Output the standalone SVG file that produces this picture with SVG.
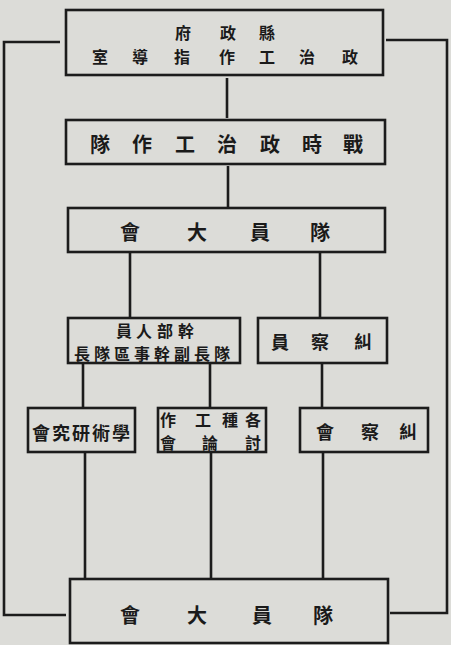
<svg xmlns="http://www.w3.org/2000/svg" width="451" height="645" viewBox="0 0 451 645">
<style>
.box{fill:none;stroke:#1c1c1c;stroke-width:2.6}
.ln{fill:none;stroke:#1c1c1c;stroke-width:2.6}
.t{font-family:"Noto Sans CJK TC","Noto Sans CJK SC",sans-serif;font-weight:bold;fill:#1a1a1a;text-anchor:middle;dominant-baseline:central}
.s16{font-size:16px}
.s18{font-size:18px}
.s20{font-size:20px}
</style>
<rect x="0" y="0" width="451" height="645" fill="#dcdcd8"/>
<g id="connectors">
<path class="ln" d="M60 42 H4 V615 H66"/>
<path class="ln" d="M386 40 H447 V613 H390"/>
<path class="ln" d="M227 78 V118"/>
<path class="ln" d="M228 166 V208"/>
<path class="ln" d="M130 252 V318"/>
<path class="ln" d="M320 252 V318"/>
<path class="ln" d="M83 363 V408"/>
<path class="ln" d="M210 363 V408"/>
<path class="ln" d="M322 363 V408"/>
<path class="ln" d="M85 452 V579"/>
<path class="ln" d="M211 452 V579"/>
<path class="ln" d="M323 452 V579"/>
</g>
<g id="node-county">
<rect class="box" x="66" y="10" width="317" height="65"/>
<text class="t s16" x="183 228 267" y="32">府政縣</text>
<text class="t s16" x="100 140 182 227 267 307 350" y="56">室導指作工治政</text>
</g>
<g id="node-wartime">
<rect class="box" x="66" y="120" width="319" height="44"/>
<text class="t s20" x="100 142 185 227 270 312 353" y="143">隊作工治政時戰</text>
</g>
<g id="node-assembly-top">
<rect class="box" x="68" y="208" width="317" height="44"/>
<text class="t s20" x="130 197 260 320" y="231">會大員隊</text>
</g>
<g id="node-cadre">
<rect class="box" x="68" y="318" width="172" height="45"/>
<text class="t s16" x="124 144 165 186" y="330">員人部幹</text>
<text class="t s16" x="82 102 122 142 162 182 202 222" y="353">長隊區事幹副長隊</text>
</g>
<g id="node-inspector">
<rect class="box" x="258" y="318" width="129" height="45"/>
<text class="t s18" x="280 320 363" y="341">員察糾</text>
</g>
<g id="node-study">
<rect class="box" x="28" y="408" width="107" height="44"/>
<text class="t s18" x="41 61 81 101 121" y="432">會究研術學</text>
</g>
<g id="node-discussion">
<rect class="box" x="158" y="408" width="108" height="44"/>
<text class="t s16" x="168 203 230 253" y="419">作工種各</text>
<text class="t s16" x="168 210 253" y="442">會論討</text>
</g>
<g id="node-inspection">
<rect class="box" x="300" y="408" width="128" height="44"/>
<text class="t s18" x="325 370 408" y="431">會察糾</text>
</g>
<g id="node-assembly-bottom">
<rect class="box" x="70" y="579" width="318" height="64"/>
<text class="t s20" x="130 197 262 323" y="614">會大員隊</text>
</g>
</svg>
